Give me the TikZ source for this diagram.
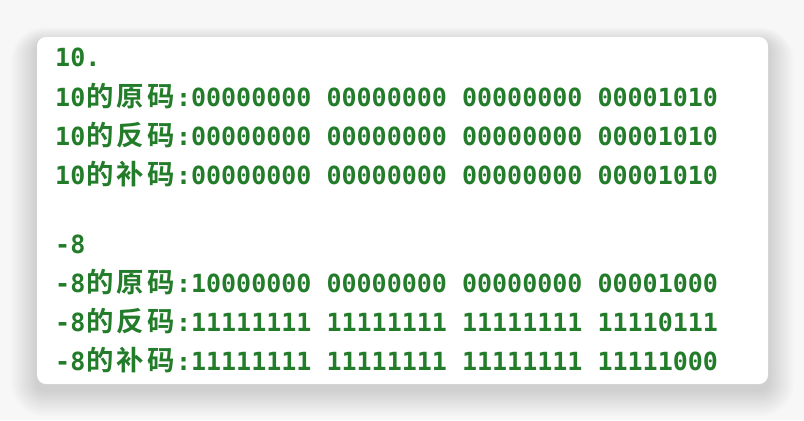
\documentclass[tikz,border=0pt]{standalone}
\usepackage{fontspec}
\setmonofont{DejaVu Sans Mono}
\newfontfamily\cjk{Noto Sans CJK SC}[BoldFont=* Bold]
\definecolor{codegreen}{RGB}{34,124,42}
\definecolor{bgout}{RGB}{247,247,247}
\newlength\cw
\setlength\cw{15.12bp}
\newcommand\cj[1]{\makebox[2\cw][c]{\cjk\fontsize{27.5}{27.5}\selectfont\bfseries #1}}
\tikzset{
  codeline/.style={anchor=base west, inner sep=0pt, text=codegreen,
    font=\ttfamily\bfseries\fontsize{25.1}{25}\selectfont}
}
\begin{document}
\begin{tikzpicture}[x=1bp,y=-1bp]
\useasboundingbox (0,0) rectangle (804,420);
\fill[bgout] (0,0) rectangle (804,420);
\foreach \i in {26,24,...,2}{
  \fill[black,opacity=0.012,rounded corners=\i bp+8bp] (37-\i,37-0.6*\i+6) rectangle (768+\i,384+\i+6);
}
\fill[white,rounded corners=9bp] (37,37) rectangle (768,384);
\node[codeline] (l1) at (55,66) {10.};
\node[codeline] (l2) at (55,106) {10\cj{的}\cj{原}\cj{码}:00000000 00000000 00000000 00001010};
\node[codeline] (l3) at (55,145) {10\cj{的}\cj{反}\cj{码}:00000000 00000000 00000000 00001010};
\node[codeline] (l4) at (55,184) {10\cj{的}\cj{补}\cj{码}:00000000 00000000 00000000 00001010};
\node[codeline] (l5) at (55,253) {-8};
\node[codeline] (l6) at (55,292) {-8\cj{的}\cj{原}\cj{码}:10000000 00000000 00000000 00001000};
\node[codeline] (l7) at (55,331) {-8\cj{的}\cj{反}\cj{码}:11111111 11111111 11111111 11110111};
\node[codeline] (l8) at (55,370) {-8\cj{的}\cj{补}\cj{码}:11111111 11111111 11111111 11111000};
\end{tikzpicture}
\end{document}
